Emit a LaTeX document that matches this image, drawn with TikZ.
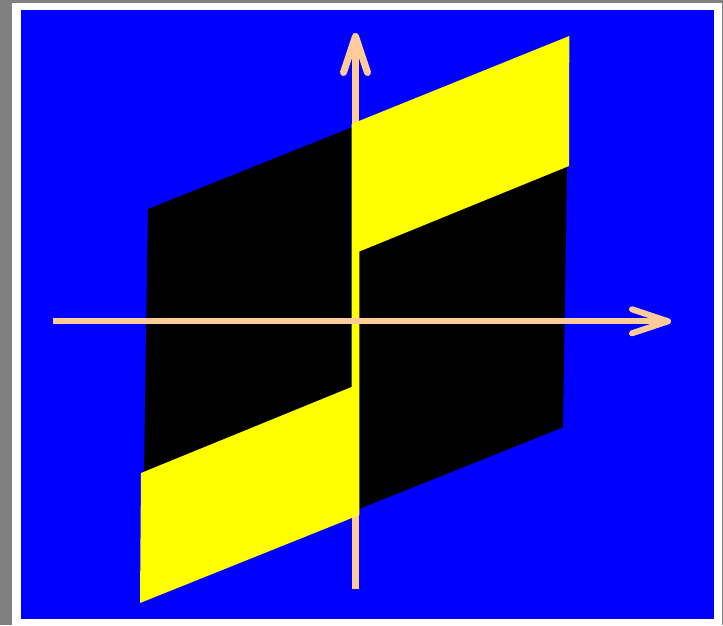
\documentclass[tikz,border=0pt]{standalone}
\usetikzlibrary{arrows.meta}
\definecolor{peach}{RGB}{255,204,153}
\definecolor{lemon}{RGB}{255,255,0}
\definecolor{deepblue}{RGB}{0,0,255}
\begin{document}
\begin{tikzpicture}[x=0.75pt,y=-0.75pt,>={Straight Barb[length=27pt,width=18pt,round]}]
\useasboundingbox (0,0) rectangle (723,625);
\fill[gray](0,0) rectangle (723,625);
\fill[white](12.3,3) rectangle (721.7,625);
\fill[deepblue](20.6,10.4) rectangle (714.3,619);
\coordinate (ybot) at (355.5,589);
\coordinate (ytop) at (355.5,33);
\coordinate (xlft) at (53,321.3);
\coordinate (xrgt) at (671,321.3);
\draw[peach,line width=5.25pt,->](ybot)--(ytop);
\fill[black](144,472)--(148,209)--(351.5,127.5)--(567,166)--(563,427.3)--(359,509)--cycle;
\fill[lemon](140,603)--(141,473)--(351.5,387)--(351.5,124)--(569.3,36)--(569,166)
  --(359.3,251.5)--(359.3,515)--cycle;
\draw[peach,line width=4.5pt,->](xlft)--(xrgt);
\end{tikzpicture}
\end{document}
